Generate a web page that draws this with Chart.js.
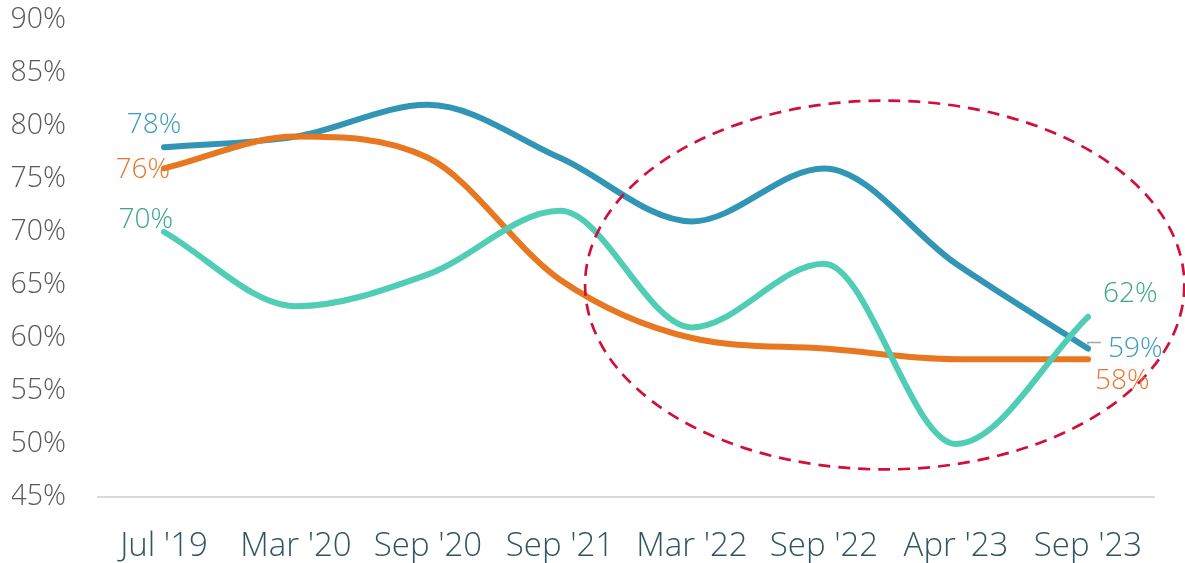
<!DOCTYPE html>
<html>
<head>
<meta charset="utf-8">
<script src="https://cdn.jsdelivr.net/npm/chart.js@4/dist/chart.umd.min.js"></script>
<style>
	html, body { margin: 0; padding: 0; background: #fff; }
	#wrap { width: 1185px; height: 563px; }
</style>
</head>
<body>
<div id="wrap"><canvas id="chart"></canvas></div>
<script>
// data
var labels = ["Jul '19", "Mar '20", "Sep '20", "Sep '21", "Mar '22", "Sep '22", "Apr '23", "Sep '23"];
var blueValues = [78, 79, 82, 77, 71, 76, 67, 59];
var orangeValues = [76, 79, 77, 65.5, 60, 59, 58, 58];
var tealValues = [70, 63, 66, 72, 61, 67, 50, 62];
var yTicks = [45, 50, 55, 60, 65, 70, 75, 80, 85, 90];

// highlight ellipse, in data units (category index / percent)
var ellipseCenter = [5.46, 65];
var ellipseRadius = [2.27, 17.4];

var FONT = "'Open Sans', sans-serif";

// end labels: [index, dx, dy, align]
var endLabels = {
	blue:   { color: "#3A9CC0", items: [[0, -10, -22, "center"], [7, 20, 0, "left"]], leader: true },
	orange: { color: "#E8762C", items: [[0, 6, 2, "right"], [7, 7, 22, "left"]] },
	teal:   { color: "#3AA58C", items: [[0, 9, -12, "right"], [7, 15, -23, "left"]] }
};

var extras = {
	id: "extras",
	afterDatasetsDraw: function(chart)
	{
		var ctx = chart.ctx;
		var xs = chart.scales.x, ys = chart.scales.y;

		// dashed ellipse
		var cx = xs.getPixelForValue(ellipseCenter[0]);
		var cy = ys.getPixelForValue(ellipseCenter[1]);
		var rx = xs.getPixelForValue(ellipseCenter[0] + ellipseRadius[0]) - cx;
		var ry = cy - ys.getPixelForValue(ellipseCenter[1] + ellipseRadius[1]);
		ctx.save();
		ctx.beginPath();
		ctx.ellipse(cx, cy, rx, ry, 0, 0, Math.PI * 2);
		ctx.setLineDash([12, 8]);
		ctx.lineWidth = 2.7;
		ctx.strokeStyle = "#D0103A";
		ctx.stroke();
		ctx.restore();

		// value labels
		ctx.save();
		ctx.font = "300 28px " + FONT;
		ctx.textBaseline = "middle";
		chart.data.datasets.forEach(function(ds)
		{
			var cfg = endLabels[ds.key];
			cfg.items.forEach(function(it)
			{
				var i = it[0];
				var px = xs.getPixelForValue(i);
				var py = ys.getPixelForValue(ds.data[i]);
				if (cfg.leader && i === ds.data.length - 1)
				{
					ctx.strokeStyle = "#A6A6A6";
					ctx.lineWidth = 1.5;
					ctx.beginPath();
					ctx.moveTo(px, py - 4);
					ctx.lineTo(px, py - 6);
					ctx.lineTo(px + 13, py - 6);
					ctx.stroke();
				}
				ctx.fillStyle = cfg.color;
				ctx.textAlign = it[3];
				ctx.fillText(ds.data[i] + "%", px + it[1], py + it[2]);
			});
		});
		ctx.restore();
	}
};

function makeSet(key, data, color)
{
	return {
		key: key,
		data: data,
		borderColor: color,
		backgroundColor: color,
		borderWidth: 6,
		borderCapStyle: "round",
		pointRadius: 0,
		pointHoverRadius: 0,
		cubicInterpolationMode: "monotone",
		fill: false
	};
}

new Chart("chart", {
	type: "line",
	data: {
		labels: labels,
		datasets: [
			makeSet("teal", tealValues, "#4FCDB5"),
			makeSet("orange", orangeValues, "#E87722"),
			makeSet("blue", blueValues, "#3195B5")
		]
	},
	options: {
		responsive: true,
		maintainAspectRatio: false,
		animation: false,
		layout: { padding: { top: 20, right: 31, left: 12, bottom: 0 } },
		plugins: { legend: { display: false }, tooltip: { enabled: false } },
		scales: {
			x: {
				offset: true,
				grid: { display: false, drawTicks: false },
				border: { display: true, color: "#D9D9D9", width: 2 },
				ticks: { color: "#2F5563", font: { family: FONT, size: 33, weight: "300" }, padding: 30, maxRotation: 0 },
				afterFit: function(axis)
				{
					axis.height = 66;
					axis.paddingLeft = 0;
					axis.paddingRight = 0;
				}
			},
			y: {
				min: 45,
				max: 90,
				afterBuildTicks: function(axis)
				{
					axis.ticks = yTicks.map(function(v) { return { value: v }; });
				},
				grid: { display: false, drawTicks: false },
				border: { display: false },
				ticks: {
					color: "#595959",
					font: { family: FONT, size: 28.5, weight: "300" },
					padding: 32,
					callback: function(v) { return v + "%"; }
				},
				afterFit: function(axis)
				{
					axis.width = 86;
					axis.paddingTop = 0;
					axis.paddingBottom = 0;
				}
			}
		}
	},
	plugins: [extras]
});
</script>
</body>
</html>
